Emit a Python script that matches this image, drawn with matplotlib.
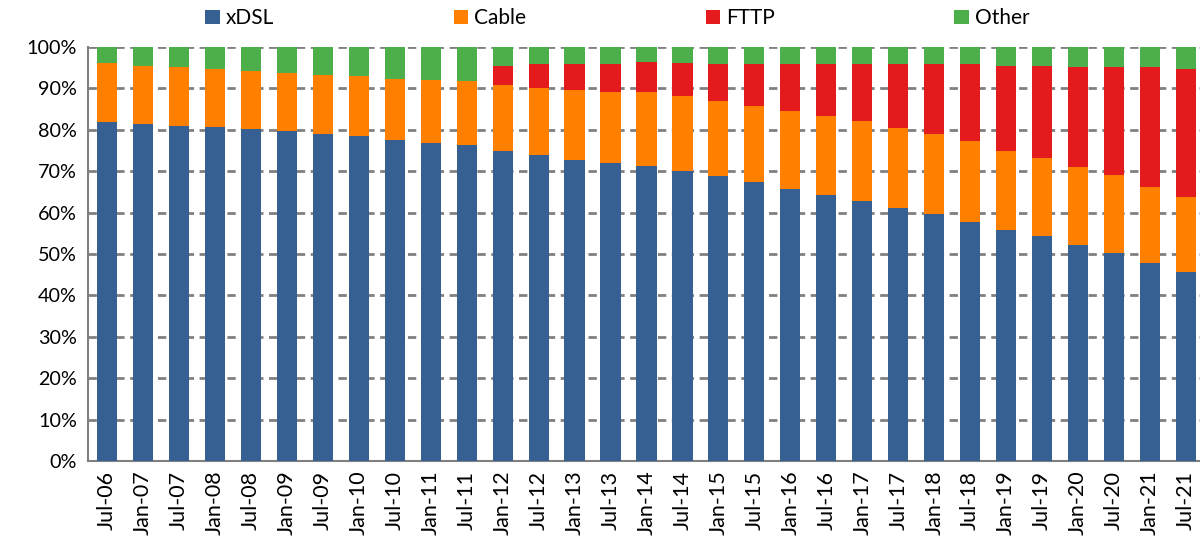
import matplotlib
matplotlib.use("Agg")
import matplotlib.pyplot as plt
import numpy as np
from matplotlib.patches import Patch
from matplotlib.ticker import FuncFormatter

plt.rcParams['font.family'] = ['Lato', 'DejaVu Sans']

periods = ["Jul-06", "Jan-07", "Jul-07", "Jan-08", "Jul-08", "Jan-09", "Jul-09", "Jan-10",
           "Jul-10", "Jan-11", "Jul-11", "Jan-12", "Jul-12", "Jan-13", "Jul-13", "Jan-14",
           "Jul-14", "Jan-15", "Jul-15", "Jan-16", "Jul-16", "Jan-17", "Jul-17", "Jan-18",
           "Jul-18", "Jan-19", "Jul-19", "Jan-20", "Jul-20", "Jan-21", "Jul-21"]

# cumulative shares (percent)
xdsl_top = [81.9, 81.5, 81.0, 80.6, 80.2, 79.7, 79.1, 78.5, 77.5, 76.9, 76.3, 75.0, 73.8,
            72.8, 72.0, 71.3, 70.1, 68.8, 67.3, 65.8, 64.2, 62.7, 61.1, 59.6, 57.7, 55.9,
            54.4, 52.2, 50.3, 47.8, 45.7]
cable_top = [96.2, 95.5, 95.2, 94.6, 94.3, 93.6, 93.2, 93.0, 92.3, 92.1, 91.8, 90.8, 90.1,
             89.6, 89.2, 89.2, 88.2, 87.0, 85.8, 84.6, 83.4, 82.1, 80.5, 79.0, 77.2, 75.0,
             73.2, 71.0, 69.2, 66.3, 63.8]
fttp_top = [96.2, 95.5, 95.2, 94.6, 94.3, 93.6, 93.2, 93.0, 92.3, 92.1, 91.8, 95.5, 95.8,
            95.8, 95.8, 96.4, 96.2, 95.8, 95.8, 95.8, 95.8, 95.8, 95.8, 95.8, 95.8, 95.5,
            95.5, 95.2, 95.2, 95.2, 94.8]

xdsl = np.array(xdsl_top) / 100
cable = (np.array(cable_top) - np.array(xdsl_top)) / 100
fttp = (np.array(fttp_top) - np.array(cable_top)) / 100
other = 1 - np.array(fttp_top) / 100

series_names = ["xDSL", "Cable", "FTTP", "Other"]
colors = ["#366092", "#FF8000", "#E41A1C", "#4DAF4A"]

fig = plt.figure(figsize=(12, 5.39), dpi=100)
ax = fig.add_axes([0.0733, 0.1447, 0.9267, 0.7681])

x = np.arange(len(periods))
w = 0.56
bottom = np.zeros(len(periods))
for vals, c in zip([xdsl, cable, fttp, other], colors):
    ax.bar(x, vals, w, bottom=bottom, color=c, zorder=3)
    bottom = bottom + vals

ax.set_ylim(0, 1)
ax.set_xlim(-0.53, 30.39)
ax.set_yticks(np.arange(0, 1.01, 0.1))
ax.yaxis.set_major_formatter(FuncFormatter(lambda v, p: f"{v*100:.0f}%"))
ax.set_xticks(x)
ax.set_xticklabels(periods, rotation=90, fontsize=15.5)
ax.tick_params(axis='y', labelsize=14.2, length=0, pad=8)
ax.tick_params(axis='x', length=0, pad=7)

ax.grid(axis='y', color='#808080', linestyle=(0, (3, 2)), linewidth=2, zorder=0)
ax.set_axisbelow(True)
for s in ['top', 'right']:
    ax.spines[s].set_visible(False)
for s in ['left', 'bottom']:
    ax.spines[s].set_color('#808080')
    ax.spines[s].set_linewidth(1.5)

handles = [Patch(facecolor=c, label=n) for n, c in zip(series_names, colors)]
fig.legend(handles=handles, loc='center', bbox_to_anchor=(0.5146, 0.966), ncol=4,
           frameon=False, fontsize=15, handlelength=0.7, handleheight=0.7,
           handletextpad=0.3, columnspacing=8.6)

fig.savefig("out.png", dpi=100)
